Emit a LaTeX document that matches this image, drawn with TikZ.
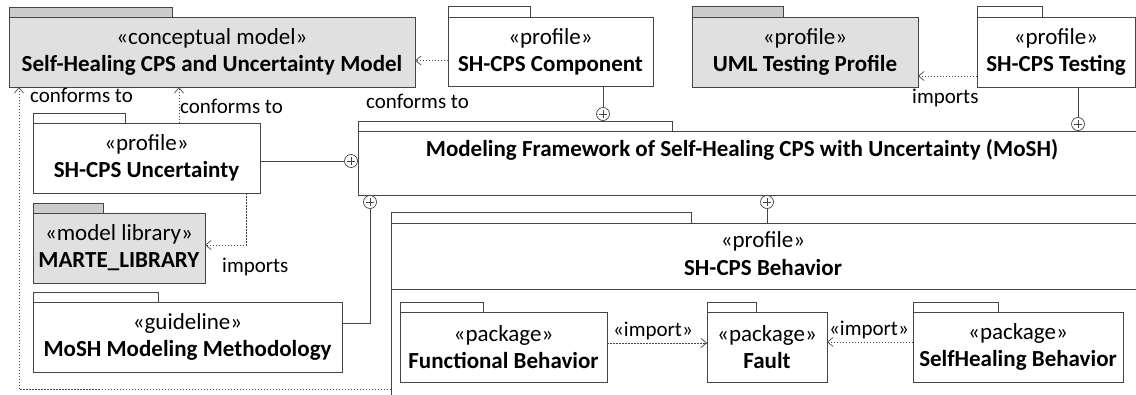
\documentclass[tikz,border=0pt]{standalone}
\usepackage{fontspec}
\setmainfont{Carlito}
\usetikzlibrary{arrows.meta,shadows}
\definecolor{ln}{HTML}{454545}
\definecolor{gfill}{HTML}{E0E0E0}
\definecolor{gtab}{HTML}{CBCBCB}
\begin{document}
\begin{tikzpicture}[x=1pt,y=-1pt,
 box/.style={draw=ln, line width=0.8pt, fill=white, anchor=north west, inner sep=0pt, outer sep=0pt,
   drop shadow={shadow xshift=1.2pt, shadow yshift=-1.2pt, fill=black!40, opacity=0.5},
   align=center, font=\fontsize{23}{27}\selectfont},
 tab/.style={draw=ln, line width=0.8pt, fill=white, anchor=north west, inner sep=0pt, outer sep=0pt},
 grey/.style={fill=gfill},
 greytab/.style={fill=gtab},
 txt/.style={font=\fontsize{23}{27}\selectfont, inner sep=0pt},
 lbl/.style={font=\fontsize{21}{24}\selectfont, anchor=west, inner sep=0pt},
 dep/.style={draw=ln, line width=0.7pt, dash pattern=on 1.5pt off 1.5pt,
   -{Straight Barb[length=5.5pt,width=9pt,line width=0.7pt]}},
 con/.style={draw=ln, line width=0.8pt},
 plus/.style={circle, draw=ln, fill=white, line width=0.7pt, minimum size=13pt, inner sep=0pt,
   path picture={\draw[ln, line width=0.6pt]
     ([xshift=-4pt]path picture bounding box.center) -- ([xshift=4pt]path picture bounding box.center)
     ([yshift=-4pt]path picture bounding box.center) -- ([yshift=4pt]path picture bounding box.center);}}
]
\useasboundingbox (0,0) rectangle (1136,394);

% conceptual model
\node[tab, greytab, minimum width=163, minimum height=10] (cmtab) at (9,7) {};
\node[box, grey, minimum width=406, minimum height=70] (cm) at (9,17)
  {«conceptual model»\\\textbf{Self-Healing CPS and Uncertainty Model}};

% SH-CPS Component
\node[tab, minimum width=82, minimum height=11] (comptab) at (448,6) {};
\node[box, minimum width=205, minimum height=69] (comp) at (448,17)
  {«profile»\\\textbf{SH-CPS Component}};

% UML Testing Profile
\node[tab, greytab, minimum width=91, minimum height=11] (utptab) at (692,6) {};
\node[box, grey, minimum width=226, minimum height=70] (utp) at (692,17)
  {«profile»\\\textbf{UML Testing Profile}};

% SH-CPS Testing
\node[tab, minimum width=65, minimum height=11] (testtab) at (977,6) {};
\node[box, minimum width=158, minimum height=70] (test) at (977,17)
  {«profile»\\\textbf{SH-CPS Testing}};

% SH-CPS Uncertainty
\node[tab, minimum width=92, minimum height=10] (unctab) at (33,113) {};
\node[box, minimum width=227, minimum height=70] (unc) at (33,123)
  {«profile»\\\textbf{SH-CPS Uncertainty}};

% MARTE library
\node[tab, greytab, minimum width=70, minimum height=10] (martetab) at (33,203) {};
\node[box, grey, minimum width=172, minimum height=70] (marte) at (33,213)
  {«model library»\\\textbf{MARTE\_LIBRARY}};

% Methodology
\node[tab, minimum width=125, minimum height=10] (methtab) at (33,292) {};
\node[box, minimum width=309, minimum height=70] (meth) at (33,302)
  {«guideline»\\\textbf{MoSH Modeling Methodology}};

% MoSH framework
\node[tab, minimum width=314, minimum height=10] (moshtab) at (358,121) {};
\node[box, minimum width=800, minimum height=64] (mosh) at (358,131) {};
\node[txt] (moshtitle) at (742,150) {\textbf{Modeling Framework of Self-Healing CPS with Uncertainty (MoSH)}};

% SH-CPS Behavior
\node[tab, minimum width=300, minimum height=11] (behtab) at (391,212) {};
\node[box, minimum width=760, minimum height=200] (beh) at (391,223) {};
\draw[con] ([yshift=-66pt]beh.north west) -- ([yshift=-66pt]beh.north east);
\node[txt] (behst) at (763,241) {«profile»};
\node[txt] (behtitle) at (763,268) {\textbf{SH-CPS Behavior}};

% inner packages
\node[tab, minimum width=83, minimum height=10] (functab) at (400,302) {};
\node[box, minimum width=207, minimum height=70] (func) at (400,312)
  {«package»\\\textbf{Functional Behavior}};
\node[tab, minimum width=49, minimum height=10] (faulttab) at (707,302) {};
\node[box, minimum width=120, minimum height=70] (fault) at (707,312)
  {«package»\\\textbf{Fault}};
\node[tab, minimum width=85, minimum height=10] (selftab) at (913,302) {};
\node[box, minimum width=210, minimum height=70] (selfh) at (913,312)
  {«package»\\\textbf{SelfHealing Behavior}};

% containment connectors
\node[plus] (p1) at (603,114) {};
\draw[con] (comp.south -| p1) -- (p1);
\node[plus] (p2) at (1078,124) {};
\draw[con] (test.south -| p2) -- (p2);
\node[plus] (p3) at (351,161) {};
\draw[con] (unc.east |- p3) -- (p3);
\node[plus] (p4) at (370,202) {};
\coordinate (m1) at ([yshift=14pt]meth.east);
\draw[con] (m1) -| (p4);
\node[plus] (p5) at (767,202) {};
\draw[con] (p5) -- (p5 |- beh.north);

% dependencies
\coordinate (lx) at (19,389);
\draw[dep] (beh.west |- lx) -- (lx) -- (lx |- cm.south);
\coordinate (u2) at ([xshift=146pt]unc.north west);
\draw[dep] (u2) -- (u2 |- cm.south);
\coordinate (c1) at ([yshift=-9pt]comp.west);
\draw[dep] (c1) -- (c1 -| cm.east);
\coordinate (t1) at ([yshift=-24pt]test.west);
\draw[dep] (t1) -- (t1 -| utp.east);
\coordinate (u3) at ([xshift=-14pt]unc.south east);
\coordinate (ma) at ([yshift=3pt]marte.east);
\draw[dep] (u3) |- (ma);
\coordinate (f1) at ([yshift=4pt]func.east);
\draw[dep] (f1) -- (f1 -| fault.west);
\coordinate (s1) at ([yshift=5pt]selfh.west);
\draw[dep] (s1) -- (s1 -| fault.east);

% labels
\node[lbl] (l1) at (30,95) {conforms to};
\node[lbl] (l2) at (180,106) {conforms to};
\node[lbl] (l3) at (366,101) {conforms to};
\node[lbl] (l4) at (912,98) {imports};
\node[lbl] (l5) at (222,267) {imports};
\node[lbl] (l6) at (613,331) {«import»};
\node[lbl] (l7) at (829,330) {«import»};
\end{tikzpicture}
\end{document}
